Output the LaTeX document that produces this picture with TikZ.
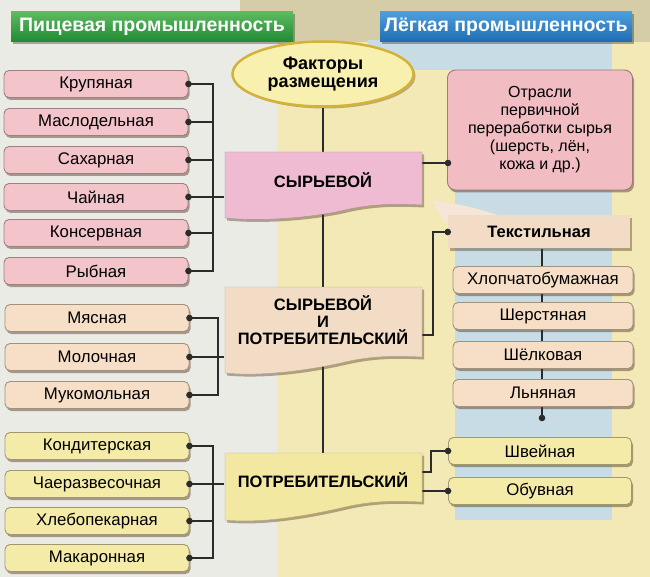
\documentclass[tikz,border=0pt]{standalone}
\usepackage{fontspec}
\setmainfont{Liberation Sans}
\usetikzlibrary{shapes.geometric, shadows}
\pgfdeclarelayer{bg}
\pgfdeclarelayer{links}
\pgfdeclarelayer{dots}
\pgfsetlayers{bg,links,main,dots}
\definecolor{panelgray}{HTML}{EBEBE6}
\definecolor{panelyellow}{HTML}{F2E9B6}
\definecolor{stripblue}{HTML}{C8DCE6}
\definecolor{topstrip}{HTML}{D4CDA8}
\definecolor{rawpink}{HTML}{F3C5CB}
\definecolor{mixbeige}{HTML}{F6DFC6}
\definecolor{usersyellow}{HTML}{F5EBA8}
\definecolor{bandpink}{HTML}{EFBBD2}
\definecolor{bandbeige}{HTML}{F2DCC6}
\definecolor{bandyellow}{HTML}{F3E8A2}
\definecolor{goldrim}{HTML}{D4B23A}
\definecolor{ovalfill}{HTML}{F7F0AE}
\definecolor{greentop}{HTML}{5DBA5F}
\definecolor{greenbot}{HTML}{1F8A33}
\definecolor{bluetop}{HTML}{4C9FDC}
\definecolor{bluebot}{HTML}{1E6BB2}
\definecolor{otrpink}{HTML}{F1BCC2}
\definecolor{linkgray}{HTML}{2B2B2B}
\begin{document}
\begin{tikzpicture}[
    x=1pt, y=-1pt,
    font=\fontsize{16.8}{18}\selectfont,
    branch/.style={rectangle, draw=#1!65!black, line width=0.9pt, rounded corners=5pt, fill=#1, minimum width=184pt, minimum height=27pt, inner sep=0pt, drop shadow={shadow xshift=1.5pt, shadow yshift=-2.5pt, fill=brown!40!black, opacity=0.45}},
    band/.style={rectangle, minimum width=197pt, inner sep=0pt, align=center, font=\fontsize{16.5}{17}\selectfont\bfseries},
    bandfill/.style={fill=#1, draw=#1!75!black, line width=0.4pt, drop shadow={shadow xshift=2pt, shadow yshift=-2.5pt, fill=brown!40!black, opacity=0.4}},
    headline/.style={rectangle, minimum height=30pt, inner sep=0pt, text=white, font=\fontsize{19.5}{20}\selectfont\bfseries, drop shadow={shadow xshift=2pt, shadow yshift=-2pt, fill=black, opacity=0.3}},
    link/.style={draw=linkgray, line width=1.1pt}
]
\useasboundingbox (0,0) rectangle (650,577);

% headers
\node[headline, minimum width=282pt, top color=greentop, bottom color=greenbot] (food) at (152,27) {Пищевая промышленность};
\node[headline, minimum width=252pt, top color=bluetop, bottom color=bluebot] (light) at (506,27) {Лёгкая промышленность};

\node[ellipse, draw=goldrim, line width=2.5pt, fill=ovalfill, minimum width=181pt, minimum height=65pt, inner sep=0pt, align=center, font=\fontsize{18}{18.5}\selectfont\bfseries, drop shadow={shadow xshift=2pt, shadow yshift=-2pt, fill=brown!40!black, opacity=0.35}] (fact) at (323,74) {Факторы\\размещения};

% central bands
\path[bandfill=bandpink, shift={(225,152)}] (0,0) -- (197,0) -- (197,53) .. controls (175,52) and (150,51) .. (120,58) .. controls (90,65) and (40,70) .. (0,66) -- cycle;
\node[band, minimum height=56pt] (syr) at (323,180) {СЫРЬЕВОЙ};
\path[bandfill=bandbeige, shift={(225,287)}] (0,0) -- (197,0) -- (197,70) .. controls (175,69) and (150,68) .. (120,75) .. controls (90,82) and (40,90) .. (0,86) -- cycle;
\node[band, minimum height=70pt] (sip) at (323,320) {СЫРЬЕВОЙ\\И\\ПОТРЕБИТЕЛЬСКИЙ};
\path[bandfill=bandyellow, shift={(225,453)}] (0,0) -- (197,0) -- (197,49) .. controls (175,48) and (150,47) .. (120,54) .. controls (90,61) and (40,71) .. (0,67) -- cycle;
\node[band, minimum height=54pt] (potr) at (323,480) {ПОТРЕБИТЕЛЬСКИЙ};

% food industry
\node[branch=rawpink] (krup) at (96,84) {Крупяная};
\node[branch=rawpink] (masl) at (96,122) {Маслодельная};
\node[branch=rawpink] (sahar) at (96,160) {Сахарная};
\node[branch=rawpink] (chai) at (96,197) {Чайная};
\node[branch=rawpink] (kons) at (96,233) {Консервная};
\node[branch=rawpink] (ryb) at (96,271) {Рыбная};

\node[branch=mixbeige] (myas) at (97,318) {Мясная};
\node[branch=mixbeige] (mol) at (97,357) {Молочная};
\node[branch=mixbeige] (muk) at (97,395) {Мукомольная};

\node[branch=usersyellow] (kond) at (97,446) {Кондитерская};
\node[branch=usersyellow] (chaer) at (97,484) {Чаеразвесочная};
\node[branch=usersyellow] (hleb) at (97,521) {Хлебопекарная};
\node[branch=usersyellow] (makar) at (97,558) {Макаронная};

% light industry
\node[branch=otrpink, rounded corners=8pt, minimum width=185pt, minimum height=120pt, align=center, font=\fontsize{16}{18}\selectfont] (otr) at (540,130) {Отрасли\\первичной\\переработки сырья\\(шерсть, лён,\\кожа и др.)};
\path[fill=bandbeige!70!white] (432,201) .. controls (458,203) and (480,209) .. (500,216) -- (448,216) -- (446,224) -- cycle;
\node[rectangle, fill=bandbeige, minimum width=182pt, minimum height=33pt, inner sep=0pt, font=\fontsize{16.5}{18}\selectfont\bfseries, drop shadow={shadow xshift=2pt, shadow yshift=-2.5pt, fill=brown!40!black, opacity=0.4}] (tekst) at (539,232) {Текстильная};
\node[branch=mixbeige, minimum width=180pt] (hlop) at (543,280) {Хлопчатобумажная};
\node[branch=mixbeige, minimum width=180pt] (sherst) at (543,316) {Шерстяная};
\node[branch=mixbeige, minimum width=180pt] (shelk) at (543,355) {Шёлковая};
\node[branch=mixbeige, minimum width=180pt] (lnyan) at (543,393) {Льняная};
\node[branch=usersyellow, minimum width=183pt] (shv) at (540,451) {Швейная};
\node[branch=usersyellow, minimum width=183pt] (obuv) at (540,491) {Обувная};

\coordinate (bus1) at (213,84);
\coordinate (bus2) at (218,318);
\coordinate (bus3) at (213,446);
\coordinate (otrin) at (448,163);
\coordinate (tbend) at (433,335);
\coordinate (pbend) at (431,472);
\coordinate (lnend) at (542,418);

\begin{pgfonlayer}{bg}
\fill[panelgray] (0,0) rectangle (650,577);
\fill[panelyellow] (277,42) rectangle (650,577);
\fill[topstrip] (240,0) rectangle (650,42);
\fill[stripblue] (368,40) rectangle (612,70);
\fill[stripblue] (455,70) rectangle (612,520);
\end{pgfonlayer}

\begin{pgfonlayer}{links}
\draw[link] (fact.south) -- (fact.south |- potr.north);
\draw[link] (krup.east) -- (bus1) |- (ryb.east);
\foreach \n in {masl,sahar,kons}
  \draw[link] (\n.east) -- (\n.east -| bus1);
\draw[link] (chai.east) -- (chai.east -| syr.west);
\draw[link] (myas.east) -- (bus2) |- (muk.east);
\draw[link] (mol.east) -- (mol.east -| sip.west);
\draw[link] (kond.east) -- (bus3) |- (makar.east);
\draw[link] (hleb.east) -- (hleb.east -| bus3);
\draw[link] (chaer.east) -- (chaer.east -| potr.west);
\draw[link] (otrin) -- (otrin -| syr.east);
\draw[link] (tekst.west) -| (tbend) -- (tbend -| sip.east);
\draw[link] (lnend |- tekst.south) -- (lnend);
\draw[link] (shv.west) -| (pbend) -- (pbend -| potr.east);
\draw[link] (obuv.west) -- (obuv.west -| potr.east);
\end{pgfonlayer}

\begin{pgfonlayer}{dots}
\foreach \p in {krup.east,masl.east,sahar.east,chai.east,kons.east,ryb.east,myas.east,mol.east,muk.east,kond.east,chaer.east,hleb.east,makar.east,otrin,tekst.west,lnend,shv.west,obuv.west}
  \fill[linkgray] (\p) circle (3.3pt);
\end{pgfonlayer}
\end{tikzpicture}
\end{document}
